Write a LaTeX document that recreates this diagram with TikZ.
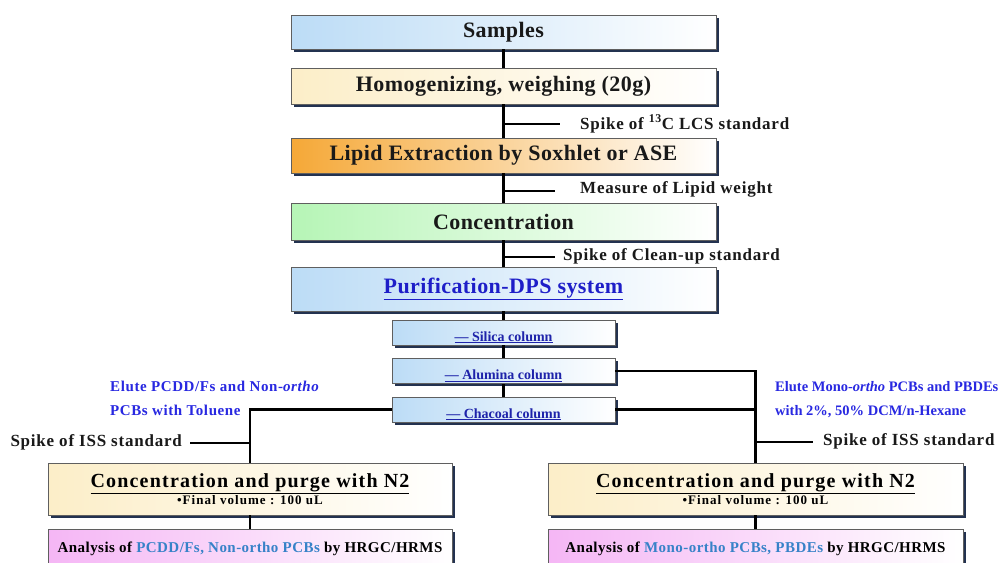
\documentclass[tikz,border=0pt]{standalone}
\usepackage{fontspec}
\setmainfont{Liberation Serif}
\usetikzlibrary{shadows}
\definecolor{shadowc}{RGB}{35,50,80}
\definecolor{bordc}{RGB}{95,95,95}
\definecolor{skyc}{RGB}{188,220,246}
\definecolor{creamc}{RGB}{252,238,200}
\definecolor{orangec}{RGB}{245,168,55}
\definecolor{greenc}{RGB}{182,245,182}
\definecolor{pinkc}{RGB}{245,182,245}
\definecolor{linkblue}{RGB}{30,30,200}
\definecolor{elblue}{RGB}{40,40,225}
\definecolor{steel}{RGB}{55,130,200}
\definecolor{colblue}{RGB}{30,35,170}
\definecolor{titlec}{RGB}{25,25,25}
\newcommand{\ls}[1]{\addfontfeature{LetterSpace=#1}}
\tikzset{
  x=1pt, y=-1pt,
  box/.style={draw=bordc, line width=0.8pt, rectangle, inner sep=0pt, right color=white,
    drop shadow={shadow xshift=2.5pt, shadow yshift=-2.5pt, fill=shadowc, opacity=1}},
  mainbox/.style={box, minimum width=425pt, text=titlec, font=\fontsize{22}{26}\selectfont\bfseries\ls{2}},
  colbox/.style={box, left color=skyc, right color=white, minimum width=223pt, inner ysep=0pt,
    text height=21pt, text depth=4pt, text=colblue, font=\fontsize{14}{15}\selectfont\bfseries},
  concbox/.style={box, left color=creamc, right color=white, minimum height=52pt, align=center},
  anabox/.style={box, left color=pinkc, right color=white, minimum height=40pt,
    font=\fontsize{15}{16}\selectfont\bfseries\ls{3}},
  side/.style={inner sep=0pt, text=titlec, font=\fontsize{17}{20}\selectfont\bfseries\ls{4.5}},
  elute/.style={inner sep=0pt, align=left, text=elblue, font=\fontsize{15}{24}\selectfont\bfseries},
  conn/.style={line width=2.2pt, black},
}
\begin{document}
\begin{tikzpicture}
\clip (0,0) rectangle (1008,562);
\fill[white] (0,0) rectangle (1008,562);
% main column
\node[mainbox, left color=skyc, minimum height=34pt] (samples) at (503.5,32) {Samples};
\node[mainbox, left color=creamc, minimum height=36pt] (homog) at (503.5,86) {Homogenizing, weighing (20g)};
\node[mainbox, left color=orangec, minimum height=35pt] (lipid) at (503.5,155.5) {Lipid Extraction by Soxhlet or ASE};
\node[mainbox, left color=greenc, minimum height=37pt] (conc) at (503.5,221.5) {Concentration};
\node[mainbox, left color=skyc, minimum height=44pt, text=linkblue] (purif) at (503.5,289) {\underline{Purification-DPS system}};
\node[colbox] (silica) at (503.5,332.5) {\underline{--- Silica column}};
\node[colbox] (alumina) at (503.5,371) {\underline{--- Alumina column}};
\node[colbox] (chacoal) at (503.5,409.5) {\underline{--- Chacoal column}};
\draw[conn] (samples) -- (homog);
\draw[conn] (homog) -- (lipid);
\draw[conn] (lipid) -- (conc);
\draw[conn] (conc) -- (purif);
\draw[conn] (purif) -- (silica);
\draw[conn] (silica) -- (alumina);
\draw[conn] (alumina) -- (chacoal);
% side labels
\node[side, anchor=west] (lbl1) at (580,124) {Spike of \textsuperscript{13}C LCS standard};
\node[side, anchor=west] (lbl2) at (580,189) {Measure of Lipid weight};
\node[side, anchor=west] (lbl3) at (563,256) {Spike of Clean-up standard};
\coordinate (j1) at (503.5,124);
\coordinate (j2) at (503.5,191);
\coordinate (j3) at (503.5,257);
\draw[conn] (j1) -- ([xshift=-20pt]lbl1.west |- j1);
\draw[conn] (j2) -- ([xshift=-25pt]lbl2.west |- j2);
\draw[conn] (j3) -- ([xshift=-8pt]lbl3.west |- j3);
% lower branches
\node[concbox, minimum width=404pt] (lconc) at (250,489)
  {{\fontsize{20}{22}\selectfont\bfseries\ls{6}\underline{Concentration and purge with N2}}\\[0pt]
   {\fontsize{13}{14}\selectfont\bfseries\ls{8}\textbullet Final volume : 100 uL}};
\node[concbox, minimum width=415pt] (rconc) at (755.5,489)
  {{\fontsize{20}{22}\selectfont\bfseries\ls{6}\underline{Concentration and purge with N2}}\\[0pt]
   {\fontsize{13}{14}\selectfont\bfseries\ls{8}\textbullet Final volume : 100 uL}};
\node[anabox, minimum width=404pt] (lana) at (250,549)
  {Analysis of \textcolor{steel}{PCDD/Fs, Non-ortho PCBs} by HRGC/HRMS};
\node[anabox, minimum width=415pt] (rana) at (755.5,549)
  {Analysis of \textcolor{steel}{Mono-ortho PCBs, PBDEs} by HRGC/HRMS};
\draw[conn] (chacoal.west) -| (lconc.north);
\draw[conn] (alumina.east) -| (rconc.north);
\draw[conn] (chacoal.east) -- (chacoal.east -| rconc.north);
\draw[conn] (lconc) -- (lana);
\draw[conn] (rconc) -- (rana);
\node[side, anchor=east] (lspike) at (182,442) {Spike of ISS standard};
\node[side, anchor=west] (rspike) at (823,441) {Spike of ISS standard};
\coordinate (lj) at (250,443);
\coordinate (rj) at (755.5,442);
\draw[conn] (lj) -- ([xshift=8pt]lspike.east |- lj);
\draw[conn] (rj) -- ([xshift=-10pt]rspike.west |- rj);
\node[elute, anchor=west, font=\fontsize{15}{24}\selectfont\bfseries\ls{4}] (lelute) at (110,398) {Elute PCDD/Fs and Non-\textit{ortho}\\PCBs with Toluene};
\node[elute, anchor=west, font=\fontsize{14.5}{24}\selectfont\bfseries] (relute) at (775,400) {Elute Mono-\textit{ortho} PCBs and PBDEs\\with 2\%, 50\% DCM/n-Hexane};
\end{tikzpicture}
\end{document}
